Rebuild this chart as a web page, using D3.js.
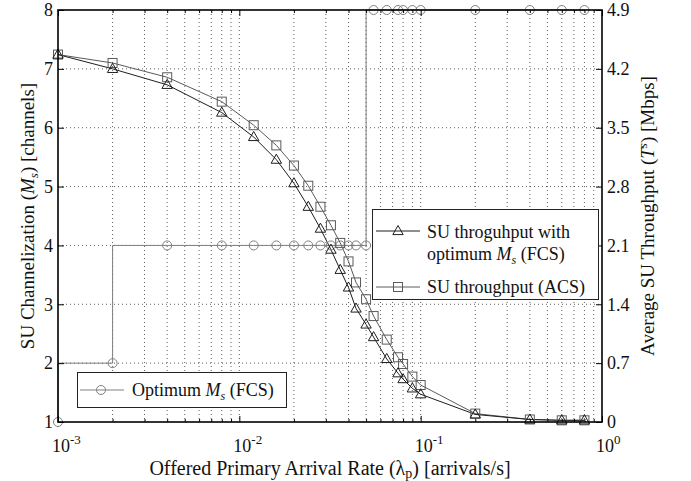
<!DOCTYPE html>
<html>
<head>
<meta charset="utf-8">
<script src="https://cdn.jsdelivr.net/npm/d3@7"></script>
<style>
  body { margin: 0; background: #fff; }
  svg text { font-family: "Liberation Serif", "DejaVu Serif", serif; fill: #111; }
</style>
</head>
<body>
<div id="chart"></div>
<script>
// offered primary arrival rate (arrivals/s)
const lambdaP = [0.001, 0.002, 0.004, 0.008, 0.012, 0.016, 0.02, 0.024, 0.028, 0.032, 0.036, 0.04,
                 0.044, 0.05, 0.055, 0.065, 0.075, 0.08, 0.09, 0.1, 0.2, 0.4, 0.6, 0.8];
// optimum channelization (FCS), left axis
const optimumMs = [1, 2, 4, 4, 4, 4, 4, 4, 4, 4, 4, 4, 4, 4, 8, 8, 8, 8, 8, 8, 8, 8, 8, 8];
// throughput with optimum Ms (FCS), Mbps, right axis
const thrFCS = [4.37, 4.20, 4.01, 3.68, 3.39, 3.12, 2.84, 2.56, 2.30, 2.05, 1.81, 1.60,
                1.35, 1.16, 1.01, 0.75, 0.58, 0.51, 0.40, 0.33, 0.09, 0.03, 0.02, 0.02];
// throughput (ACS), Mbps, right axis
const thrACS = [4.37, 4.27, 4.10, 3.81, 3.53, 3.29, 3.05, 2.81, 2.56, 2.34, 2.13, 1.91,
                1.66, 1.46, 1.26, 0.98, 0.77, 0.69, 0.54, 0.44, 0.10, 0.03, 0.02, 0.02];

const xMajor = [1e-3, 1e-2, 1e-1, 1];
const xExp = ["-3", "-2", "-1", "0"];
const yLeftTicks = [1, 2, 3, 4, 5, 6, 7, 8];
const yRightTicks = [0, 0.7, 1.4, 2.1, 2.8, 3.5, 4.2, 4.9];

const W = 691, H = 481;
const pL = 58, pR = 602, pT = 10, pB = 422;

const svg = d3.select("#chart").append("svg")
  .attr("width", W).attr("height", H);

const x = d3.scaleLog().domain([1e-3, 1]).range([pL, pR]);
const yL = d3.scaleLinear().domain([1, 8]).range([pB, pT]);
const yR = d3.scaleLinear().domain([0, 4.9]).range([pB, pT]);

const xMinor = [];
[1e-3, 1e-2, 1e-1].forEach(d => { for (let k = 2; k <= 9; k++) xMinor.push(d * k); });

// grid
const grid = svg.append("g")
  .attr("stroke", "#333").attr("stroke-width", 0.8).attr("stroke-dasharray", "1,3");
grid.selectAll(".vg").data(xMinor.concat([1e-2, 1e-1]))
  .enter().append("line")
  .attr("x1", d => x(d)).attr("x2", d => x(d))
  .attr("y1", pT).attr("y2", pB);
grid.selectAll(".hg").data(yLeftTicks.slice(1, -1))
  .enter().append("line")
  .attr("x1", pL).attr("x2", pR)
  .attr("y1", d => yL(d)).attr("y2", d => yL(d));

// series
const stepLine = d3.line().curve(d3.curveStepBefore)
  .x((d, i) => x(lambdaP[i])).y(d => yL(d));
svg.append("path").datum(optimumMs)
  .attr("d", stepLine).attr("fill", "none").attr("stroke", "#808080").attr("stroke-width", 1);

const thrLine = d3.line().x((d, i) => x(lambdaP[i])).y(d => yR(d));
svg.append("path").datum(thrACS)
  .attr("d", thrLine).attr("fill", "none").attr("stroke", "#5a5a5a").attr("stroke-width", 1);
svg.append("path").datum(thrFCS)
  .attr("d", thrLine).attr("fill", "none").attr("stroke", "#1e1e1e").attr("stroke-width", 1);

const triPath = "M0,-5.5L5.2,3.6L-5.2,3.6Z";

function circleMark(g, cx, cy) {
  g.append("circle").attr("cx", cx).attr("cy", cy).attr("r", 4.5)
    .attr("fill", "none").attr("stroke", "#808080").attr("stroke-width", 1);
}
function squareMark(g, cx, cy) {
  g.append("rect").attr("x", cx - 4.5).attr("y", cy - 4.5).attr("width", 9).attr("height", 9)
    .attr("fill", "none").attr("stroke", "#5a5a5a").attr("stroke-width", 1);
}
function triMark(g, cx, cy) {
  g.append("path").attr("d", triPath).attr("transform", `translate(${cx},${cy})`)
    .attr("fill", "none").attr("stroke", "#1e1e1e").attr("stroke-width", 1);
}

const marks = svg.append("g");
optimumMs.forEach((d, i) => circleMark(marks, x(lambdaP[i]), yL(d)));
thrACS.forEach((d, i) => squareMark(marks, x(lambdaP[i]), yR(d)));
thrFCS.forEach((d, i) => triMark(marks, x(lambdaP[i]), yR(d)));

// axes
function styleAxis(g) {
  g.select(".domain").remove();
  g.selectAll(".tick line").attr("stroke", "#000").attr("stroke-width", 1);
}
svg.append("g").attr("transform", `translate(0,${pB})`)
  .call(d3.axisBottom(x).tickValues(xMajor).tickSize(-6).tickFormat("")).call(styleAxis);
svg.append("g").attr("transform", `translate(0,${pB})`)
  .call(d3.axisBottom(x).tickValues(xMinor).tickSize(-3).tickFormat("")).call(styleAxis);
svg.append("g").attr("transform", `translate(0,${pT})`)
  .call(d3.axisTop(x).tickValues(xMajor).tickSize(-6).tickFormat("")).call(styleAxis);
svg.append("g").attr("transform", `translate(0,${pT})`)
  .call(d3.axisTop(x).tickValues(xMinor).tickSize(-3).tickFormat("")).call(styleAxis);

const leftAxis = svg.append("g").attr("transform", `translate(${pL},0)`)
  .call(d3.axisLeft(yL).tickValues(yLeftTicks).tickSize(-6).tickPadding(5).tickFormat(d3.format("d")));
leftAxis.select(".domain").remove();
leftAxis.selectAll(".tick line").attr("stroke", "#000");
leftAxis.selectAll(".tick text").attr("font-size", 18).attr("fill", "#111")
  .attr("font-family", "Liberation Serif");

const rightAxis = svg.append("g").attr("transform", `translate(${pR},0)`)
  .call(d3.axisRight(yR).tickValues(yRightTicks).tickSize(-6).tickPadding(5)
    .tickFormat(d => d === 0 ? "0" : d3.format(".1f")(d)));
rightAxis.select(".domain").remove();
rightAxis.selectAll(".tick line").attr("stroke", "#000");
rightAxis.selectAll(".tick text").attr("font-size", 18).attr("fill", "#111")
  .attr("font-family", "Liberation Serif");

// frame
svg.append("rect").attr("x", pL).attr("y", pT)
  .attr("width", pR - pL).attr("height", pB - pT)
  .attr("fill", "none").attr("stroke", "#000").attr("stroke-width", 1.6);

// x tick labels 10^n
const xl = svg.append("g").selectAll("text").data(xMajor).enter().append("text")
  .attr("x", d => x(d) - 6).attr("y", 452).attr("font-size", 18);
xl.append("tspan").text("10");
xl.append("tspan").attr("dy", -8).attr("font-size", 13).text((d, i) => xExp[i]);

// axis titles
const xt = svg.append("text").attr("x", (pL + pR) / 2).attr("y", 475)
  .attr("text-anchor", "middle").attr("font-size", 20);
xt.append("tspan").text("Offered Primary Arrival Rate (λ");
xt.append("tspan").attr("dy", 3).attr("font-size", 14).text("p");
xt.append("tspan").attr("dy", -3).text(") [arrivals/s]");

const lt = svg.append("text").attr("transform", `translate(34,${(pT + pB) / 2}) rotate(-90)`)
  .attr("text-anchor", "middle").attr("font-size", 19);
lt.append("tspan").text("SU Channelization (");
lt.append("tspan").attr("font-style", "italic").text("M");
lt.append("tspan").attr("dy", 4).attr("font-size", 13).attr("font-style", "italic").text("s");
lt.append("tspan").attr("dy", -4).text(") [channels]");

const rt = svg.append("text").attr("transform", `translate(654,${(pT + pB) / 2}) rotate(-90)`)
  .attr("text-anchor", "middle").attr("font-size", 19);
rt.append("tspan").text("Average SU Throughput (");
rt.append("tspan").attr("font-style", "italic").text("T");
rt.append("tspan").attr("dy", -7).attr("font-size", 13).attr("font-style", "italic").text("s");
rt.append("tspan").attr("dy", 7).text(") [Mbps]");

// legend (throughput)
const lg = svg.append("g");
lg.append("rect").attr("x", 372.5).attr("y", 209.5).attr("width", 226).attr("height", 90)
  .attr("fill", "#fff").attr("stroke", "#222").attr("stroke-width", 1);
lg.append("line").attr("x1", 376).attr("x2", 420).attr("y1", 231).attr("y2", 231)
  .attr("stroke", "#1e1e1e");
triMark(lg, 398, 231);
lg.append("text").attr("x", 427).attr("y", 238).attr("font-size", 18).text("SU throguhput with");
const l2 = lg.append("text").attr("x", 427).attr("y", 260).attr("font-size", 18);
l2.append("tspan").text("optimum ");
l2.append("tspan").attr("font-style", "italic").text("M");
l2.append("tspan").attr("dy", 4).attr("font-size", 12).attr("font-style", "italic").text("s");
l2.append("tspan").attr("dy", -4).text(" (FCS)");
lg.append("line").attr("x1", 376).attr("x2", 420).attr("y1", 287).attr("y2", 287)
  .attr("stroke", "#5a5a5a");
squareMark(lg, 398, 287);
lg.append("text").attr("x", 427).attr("y", 293).attr("font-size", 18).text("SU throughput (ACS)");

// legend (optimum Ms)
const lg2 = svg.append("g");
lg2.append("rect").attr("x", 77.5).attr("y", 372.5).attr("width", 209).attr("height", 35)
  .attr("fill", "#fff").attr("stroke", "#222").attr("stroke-width", 1);
lg2.append("line").attr("x1", 80).attr("x2", 124).attr("y1", 390).attr("y2", 390)
  .attr("stroke", "#808080");
circleMark(lg2, 101, 390);
const l3 = lg2.append("text").attr("x", 132).attr("y", 396).attr("font-size", 18);
l3.append("tspan").text("Optimum ");
l3.append("tspan").attr("font-style", "italic").text("M");
l3.append("tspan").attr("dy", 4).attr("font-size", 12).attr("font-style", "italic").text("s");
l3.append("tspan").attr("dy", -4).text(" (FCS)");
</script>
</body>
</html>
